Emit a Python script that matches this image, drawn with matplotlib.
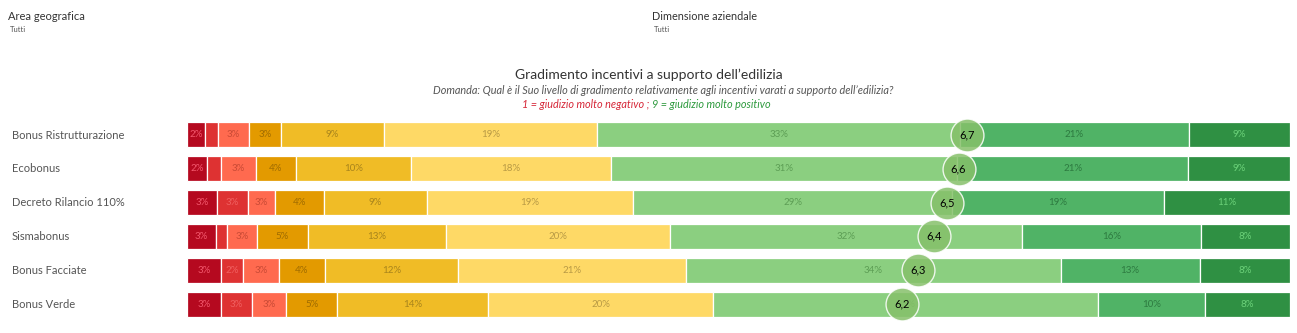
import matplotlib.pyplot as plt
import numpy as np

plt.rcParams['font.family'] = ['Lato', 'DejaVu Sans']

# quote di risposta (%) per livello di gradimento 1..9
incentivi = ["Bonus Ristrutturazione", "Ecobonus", "Decreto Rilancio 110%",
             "Sismabonus", "Bonus Facciate", "Bonus Verde"]
livello_1 = [1.6, 1.85, 2.7, 2.6, 3.1, 3.1]
livello_2 = [1.2, 1.2, 2.8, 1.0, 2.0, 2.8]
livello_3 = [2.8, 3.2, 2.5, 2.75, 3.2, 3.1]
livello_4 = [2.9, 3.6, 4.4, 4.6, 4.2, 4.6]
livello_5 = [9.4, 10.4, 9.3, 12.5, 12.1, 13.7]
livello_6 = [19.3, 18.1, 18.7, 20.3, 20.6, 20.4]
livello_7 = [32.9, 31.4, 28.9, 31.9, 34.0, 34.9]
livello_8 = [20.7, 20.9, 19.2, 16.2, 12.6, 9.7]
livello_9 = [9.2, 9.2, 11.4, 8.1, 8.2, 7.7]

colori = ["#b5091f", "#de3232", "#ff6a4f", "#e39a00", "#f0bc26",
          "#fed966", "#8bcf80", "#50b366", "#2f9043"]
colori_etichette = ["#f2576c", "#f06060", "#c94a35", "#a06c00", "#a8841c",
                    "#b89a45", "#5d9e55", "#2d7a40", "#6cd27a"]

livelli = np.array([livello_1, livello_2, livello_3, livello_4, livello_5,
                    livello_6, livello_7, livello_8, livello_9])
totali = livelli.sum(axis=0)
quote = livelli / totali * 100
media = (np.arange(1, 10)[:, None] * quote).sum(axis=0) / 100

W, H = 1297, 333
fig = plt.figure(figsize=(W / 100, H / 100), dpi=100)

def px(x, y):
    return x / W, 1 - y / H

# filtri in alto
fig.text(*px(8, 17), "Area geografica", fontsize=8, color="#333333", va="center")
fig.text(*px(10, 29), "Tutti", fontsize=5.5, color="#555555", va="center")
fig.text(*px(652, 17), "Dimensione aziendale", fontsize=7.8, color="#333333", va="center")
fig.text(*px(654, 29), "Tutti", fontsize=5.5, color="#555555", va="center")

# titolo e domanda
fig.text(*px(649, 75), "Gradimento incentivi a supporto dell\u2019edilizia",
         fontsize=10, color="#333333", ha="center", va="center")
fig.text(*px(663, 91), "Domanda: Qual \u00e8 il Suo livello di gradimento relativamente agli "
         "incentivi varati a supporto dell\u2019edilizia?",
         fontsize=7.8, color="#555555", style="italic", ha="center", va="center")
fig.text(*px(650, 105), "1 = giudizio molto negativo ;", fontsize=7.8, color="#d62839",
         style="italic", ha="right", va="center")
fig.text(*px(652, 105), "9 = giudizio molto positivo", fontsize=7.8, color="#2e9a3e",
         style="italic", ha="left", va="center")

ax = fig.add_axes([187 / W, 1 - 321 / H, (1290 - 187) / W, (321 - 118) / H])
y = np.arange(len(incentivi))
sinistra = np.zeros(len(incentivi))
for k in range(9):
    ax.barh(y, quote[k], left=sinistra, height=0.74, color=colori[k],
            edgecolor="white", linewidth=0.9)
    for i in range(len(incentivi)):
        if quote[k, i] >= 1.5:
            ax.text(sinistra[i] + quote[k, i] / 2, y[i], f"{round(quote[k, i])}%",
                    fontsize=7, color=colori_etichette[k], ha="center", va="center")
    sinistra += quote[k]

# media del gradimento sulla scala 1..9
pos_media = (media - 1) / 8 * 100
ax.scatter(pos_media, y, s=560, color="#86c06a", alpha=0.85,
           edgecolors="white", linewidths=1.0, zorder=5)
for i in range(len(incentivi)):
    ax.text(pos_media[i], y[i], f"{media[i]:.1f}".replace(".", ","), fontsize=8,
            color="black", ha="center", va="center", zorder=6)

ax.set_xlim(0, 100)
ax.set_ylim(len(incentivi) - 0.5, -0.5)
ax.axis("off")

for i, nome in enumerate(incentivi):
    fig.text(*px(12, 135 + i * 33.8), nome, fontsize=8, color="#555555", va="center")

fig.savefig("out.png", dpi=100)
